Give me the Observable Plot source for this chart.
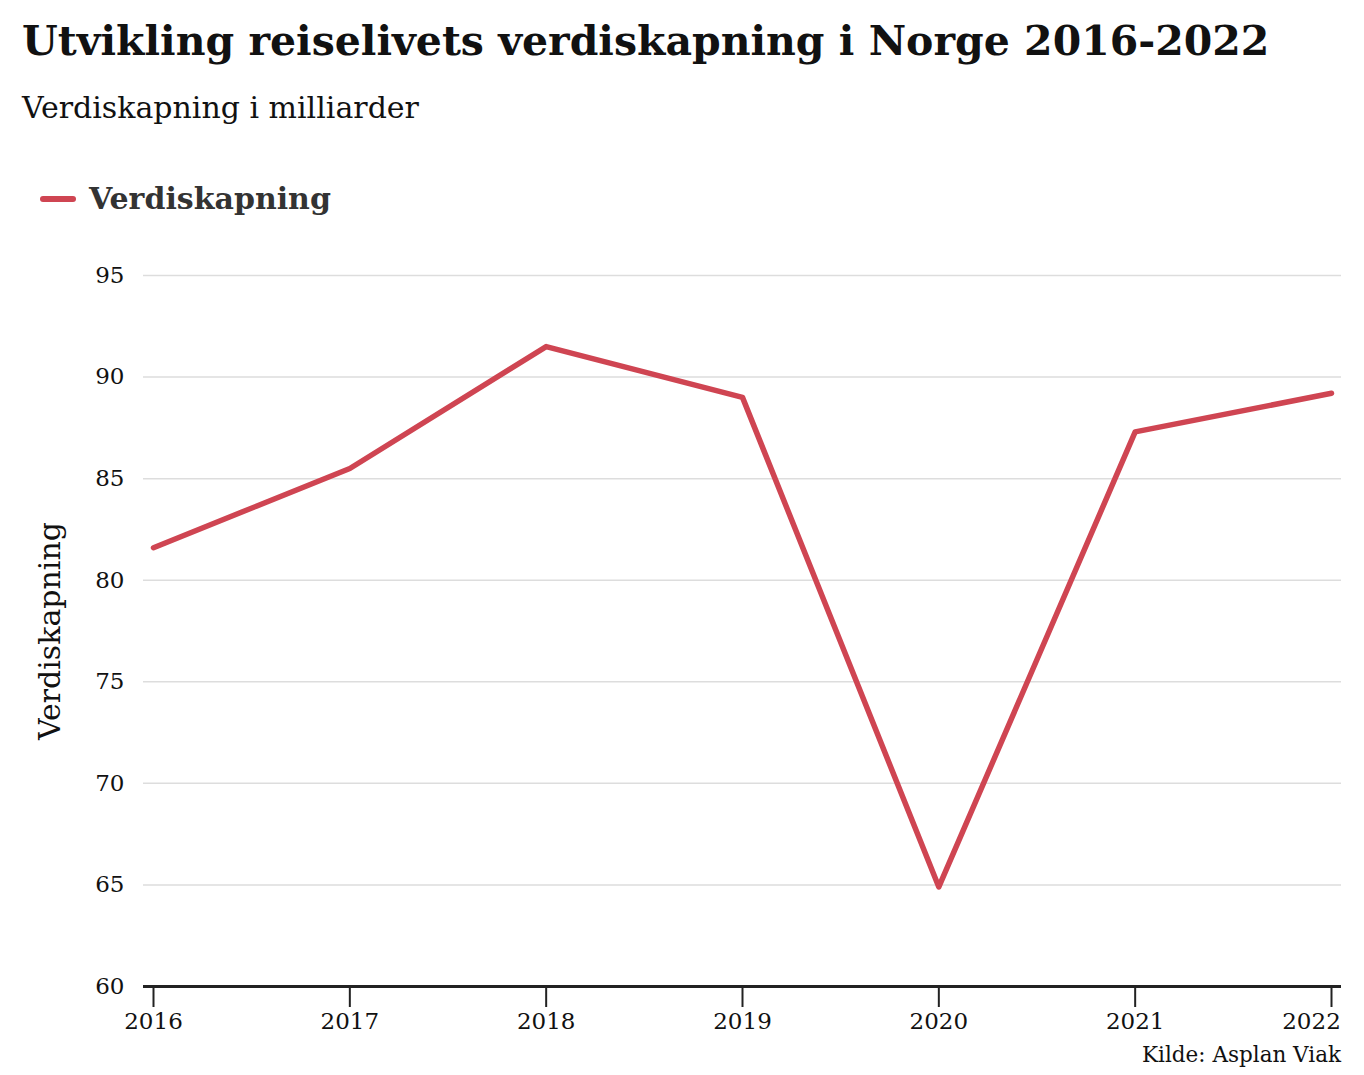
<!DOCTYPE html>
<html>
<head>
<meta charset="utf-8">
<script src="https://cdn.jsdelivr.net/npm/d3@7"></script>
<script src="https://cdn.jsdelivr.net/npm/@observablehq/plot@0.6"></script>
<style>
  html, body { margin: 0; padding: 0; background: #fff; }
  body { width: 1364px; height: 1075px; position: relative; font-family: "DejaVu Serif", serif; color: #111; overflow: hidden; }
  #title { position: absolute; left: 22px; top: 16px; font-size: 41px; font-weight: bold; white-space: nowrap; line-height: 50px; }
  #subtitle { position: absolute; left: 22px; top: 91px; font-size: 30px; white-space: nowrap; line-height: 34px; }
  #legend { position: absolute; left: 40px; top: 180px; font-size: 30px; font-weight: bold; color: #333; white-space: nowrap; display: flex; align-items: center; line-height: 38px; }
  #legend .sw { width: 36px; height: 6px; border-radius: 3px; background: #cf4552; margin-right: 13px; }
  #chart { position: absolute; left: 0; top: 240px; }
  #caption { position: absolute; right: 23px; top: 1041px; font-size: 21.5px; white-space: nowrap; line-height: 28px; color: #111; }
</style>
</head>
<body>
<div id="title">Utvikling reiselivets verdiskapning i Norge 2016-2022</div>
<div id="subtitle">Verdiskapning i milliarder</div>
<div id="legend"><span class="sw"></span><span>Verdiskapning</span></div>
<div id="chart"></div>
<div id="caption">Kilde: Asplan Viak</div>
<script>
const years = [2016, 2017, 2018, 2019, 2020, 2021, 2022];
const values = [81.6, 85.5, 91.5, 89.0, 64.9, 87.3, 89.2];
const yTicks = [60, 65, 70, 75, 80, 85, 90, 95];
const gridTicks = [65, 70, 75, 80, 85, 90, 95];
const seriesName = "Verdiskapning";

const data = years.map((y, i) => ({year: y, value: values[i]}));
const lastYear = years[years.length - 1];

const chart = Plot.plot({
  width: 1364,
  height: 800,
  marginLeft: 143,
  marginRight: 23,
  marginTop: 35,
  marginBottom: 54,
  style: {fontFamily: "DejaVu Serif, serif", color: "#111", background: "#fff"},
  x: {type: "linear", domain: [2016, 2022], inset: 10},
  y: {domain: [60, 95]},
  marks: [
    Plot.gridY(gridTicks, {stroke: "#dddddd", strokeOpacity: 1, strokeWidth: 1.5}),
    Plot.axisY(yTicks, {tickSize: 0, tickPadding: 19, fontSize: 23, label: null, fill: "#111"}),
    Plot.axisX(years, {tickSize: 21, tickPadding: 5, fontSize: 23, tickFormat: d => (d === lastYear ? "" : String(d)), label: null, stroke: "#222", strokeWidth: 2, fill: "#111"}),
    Plot.axisX([lastYear], {tickSize: 0, tickPadding: 26, dx: -20, fontSize: 23, tickFormat: d => String(d), label: null, fill: "#111"}),
    Plot.ruleY([60], {stroke: "#222", strokeWidth: 3}),
    Plot.text([seriesName], {frameAnchor: "left", dx: -93, rotate: -90, textAnchor: "middle", fontSize: 30, fill: "#111"}),
    Plot.line(data, {x: "year", y: "value", stroke: "#cf4552", strokeWidth: 5.5, strokeLinejoin: "round", strokeLinecap: "round"})
  ]
});
document.getElementById("chart").appendChild(chart);
</script>
</body>
</html>
